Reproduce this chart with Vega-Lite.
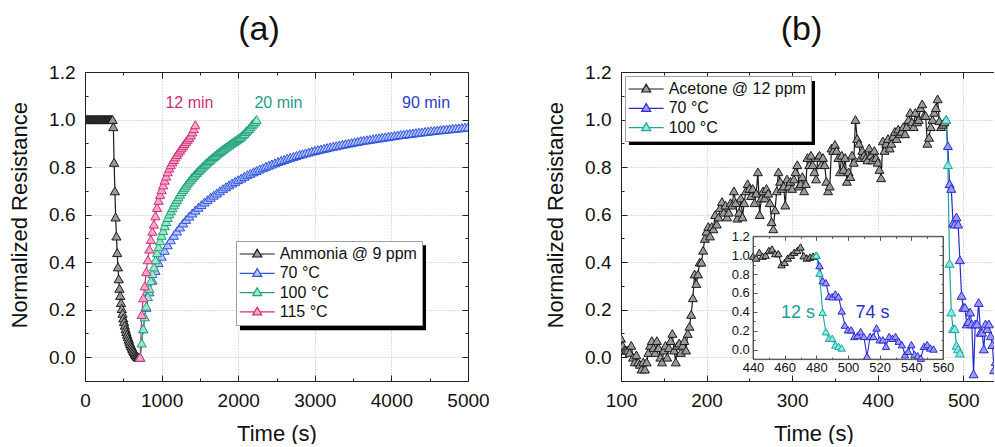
{
"$schema":"https://vega.github.io/schema/vega-lite/v6.json",
"background":"white",
"padding":{"left":8,"top":13,"right":0,"bottom":0},
"spacing":153,
"bounds":"flush",
"config":{
 "view":{"stroke":null},
 "font":"Liberation Sans",
 "axis":{"labelFont":"Liberation Sans","titleFont":"Liberation Sans","labelColor":"#111","titleColor":"#111","domainColor":"#222","tickColor":"#222","titleFontWeight":"normal","gridColor":"#bdbdbd","gridDash":[1,2],"labelFlush":false,"labelOverlap":false},
 "legend":{"labelFont":"Liberation Sans","labelColor":"#111","zindex":1},
 "title":{"font":"Liberation Sans","fontSize":34,"fontWeight":"normal","color":"#111","baseline":"alphabetic","offset":16,"anchor":"middle"},
 "text":{"font":"Liberation Sans"}
},
"resolve":{"scale":{"x":"independent","y":"independent","stroke":"independent","fill":"independent"},"axis":{"x":"independent","y":"independent"},"legend":{"stroke":"independent","fill":"independent"}},
"datasets":{
"a":[
{"s":"Ammonia @ 9 ppm","t":0,"r":1},{"s":"Ammonia @ 9 ppm","t":10,"r":1},{"s":"Ammonia @ 9 ppm","t":20,"r":1},{"s":"Ammonia @ 9 ppm","t":30,"r":1},{"s":"Ammonia @ 9 ppm","t":40,"r":1},{"s":"Ammonia @ 9 ppm","t":50,"r":1},{"s":"Ammonia @ 9 ppm","t":60,"r":1},{"s":"Ammonia @ 9 ppm","t":70,"r":1},{"s":"Ammonia @ 9 ppm","t":80,"r":1},{"s":"Ammonia @ 9 ppm","t":90,"r":1},{"s":"Ammonia @ 9 ppm","t":100,"r":1},{"s":"Ammonia @ 9 ppm","t":110,"r":1},{"s":"Ammonia @ 9 ppm","t":120,"r":1},{"s":"Ammonia @ 9 ppm","t":130,"r":1},{"s":"Ammonia @ 9 ppm","t":140,"r":1},{"s":"Ammonia @ 9 ppm","t":150,"r":1},{"s":"Ammonia @ 9 ppm","t":160,"r":1},{"s":"Ammonia @ 9 ppm","t":170,"r":1},{"s":"Ammonia @ 9 ppm","t":180,"r":1},{"s":"Ammonia @ 9 ppm","t":190,"r":1},{"s":"Ammonia @ 9 ppm","t":200,"r":1},{"s":"Ammonia @ 9 ppm","t":210,"r":1},{"s":"Ammonia @ 9 ppm","t":220,"r":1},{"s":"Ammonia @ 9 ppm","t":230,"r":1},{"s":"Ammonia @ 9 ppm","t":240,"r":1},{"s":"Ammonia @ 9 ppm","t":250,"r":1},{"s":"Ammonia @ 9 ppm","t":260,"r":1},{"s":"Ammonia @ 9 ppm","t":270,"r":1},{"s":"Ammonia @ 9 ppm","t":280,"r":1},{"s":"Ammonia @ 9 ppm","t":290,"r":1},{"s":"Ammonia @ 9 ppm","t":300,"r":1},{"s":"Ammonia @ 9 ppm","t":310,"r":1},{"s":"Ammonia @ 9 ppm","t":320,"r":1},{"s":"Ammonia @ 9 ppm","t":330,"r":1},{"s":"Ammonia @ 9 ppm","t":340,"r":1},{"s":"Ammonia @ 9 ppm","t":350,"r":1},
{"s":"Ammonia @ 9 ppm","t":360,"r":1.0},{"s":"Ammonia @ 9 ppm","t":370,"r":0.97},{"s":"Ammonia @ 9 ppm","t":380,"r":0.82},{"s":"Ammonia @ 9 ppm","t":390,"r":0.70},{"s":"Ammonia @ 9 ppm","t":400,"r":0.59},{"s":"Ammonia @ 9 ppm","t":410,"r":0.51},{"s":"Ammonia @ 9 ppm","t":420,"r":0.44},{"s":"Ammonia @ 9 ppm","t":430,"r":0.38},{"s":"Ammonia @ 9 ppm","t":440,"r":0.33},{"s":"Ammonia @ 9 ppm","t":450,"r":0.29},{"s":"Ammonia @ 9 ppm","t":460,"r":0.26},{"s":"Ammonia @ 9 ppm","t":470,"r":0.23},{"s":"Ammonia @ 9 ppm","t":480,"r":0.205},{"s":"Ammonia @ 9 ppm","t":490,"r":0.185},{"s":"Ammonia @ 9 ppm","t":500,"r":0.165},{"s":"Ammonia @ 9 ppm","t":510,"r":0.15},{"s":"Ammonia @ 9 ppm","t":520,"r":0.135},{"s":"Ammonia @ 9 ppm","t":530,"r":0.12},{"s":"Ammonia @ 9 ppm","t":540,"r":0.108},{"s":"Ammonia @ 9 ppm","t":550,"r":0.097},{"s":"Ammonia @ 9 ppm","t":560,"r":0.086},{"s":"Ammonia @ 9 ppm","t":570,"r":0.076},{"s":"Ammonia @ 9 ppm","t":580,"r":0.067},{"s":"Ammonia @ 9 ppm","t":590,"r":0.058},{"s":"Ammonia @ 9 ppm","t":600,"r":0.05},{"s":"Ammonia @ 9 ppm","t":610,"r":0.043},{"s":"Ammonia @ 9 ppm","t":620,"r":0.036},{"s":"Ammonia @ 9 ppm","t":630,"r":0.029},{"s":"Ammonia @ 9 ppm","t":640,"r":0.023},{"s":"Ammonia @ 9 ppm","t":650,"r":0.017},{"s":"Ammonia @ 9 ppm","t":660,"r":0.012},{"s":"Ammonia @ 9 ppm","t":670,"r":0.008},{"s":"Ammonia @ 9 ppm","t":680,"r":0.004},{"s":"Ammonia @ 9 ppm","t":690,"r":0.001},{"s":"Ammonia @ 9 ppm","t":700,"r":0.0},
{"s":"70 °C","t":720,"r":0.0},{"s":"70 °C","t":760,"r":0.12},{"s":"70 °C","t":800,"r":0.21},{"s":"70 °C","t":840,"r":0.275},{"s":"70 °C","t":880,"r":0.325},{"s":"70 °C","t":920,"r":0.365},{"s":"70 °C","t":960,"r":0.398},{"s":"70 °C","t":1000,"r":0.425},{"s":"70 °C","t":1040,"r":0.45},{"s":"70 °C","t":1080,"r":0.473},{"s":"70 °C","t":1120,"r":0.494},{"s":"70 °C","t":1160,"r":0.513},{"s":"70 °C","t":1200,"r":0.531},{"s":"70 °C","t":1240,"r":0.548},{"s":"70 °C","t":1280,"r":0.565},{"s":"70 °C","t":1320,"r":0.58},{"s":"70 °C","t":1360,"r":0.594},{"s":"70 °C","t":1400,"r":0.607},{"s":"70 °C","t":1440,"r":0.619},{"s":"70 °C","t":1480,"r":0.631},{"s":"70 °C","t":1520,"r":0.642},{"s":"70 °C","t":1560,"r":0.653},{"s":"70 °C","t":1600,"r":0.663},{"s":"70 °C","t":1640,"r":0.673},{"s":"70 °C","t":1680,"r":0.682},{"s":"70 °C","t":1720,"r":0.691},{"s":"70 °C","t":1760,"r":0.70},{"s":"70 °C","t":1800,"r":0.709},{"s":"70 °C","t":1840,"r":0.717},{"s":"70 °C","t":1880,"r":0.725},{"s":"70 °C","t":1920,"r":0.733},{"s":"70 °C","t":1960,"r":0.74},{"s":"70 °C","t":2000,"r":0.747},{"s":"70 °C","t":2040,"r":0.754},{"s":"70 °C","t":2080,"r":0.761},{"s":"70 °C","t":2120,"r":0.768},{"s":"70 °C","t":2160,"r":0.774},{"s":"70 °C","t":2200,"r":0.78},{"s":"70 °C","t":2240,"r":0.786},{"s":"70 °C","t":2280,"r":0.792},{"s":"70 °C","t":2320,"r":0.797},{"s":"70 °C","t":2360,"r":0.803},{"s":"70 °C","t":2400,"r":0.808},{"s":"70 °C","t":2440,"r":0.813},{"s":"70 °C","t":2480,"r":0.818},{"s":"70 °C","t":2520,"r":0.823},{"s":"70 °C","t":2560,"r":0.828},{"s":"70 °C","t":2600,"r":0.832},{"s":"70 °C","t":2640,"r":0.837},{"s":"70 °C","t":2680,"r":0.841},{"s":"70 °C","t":2720,"r":0.845},{"s":"70 °C","t":2760,"r":0.849},{"s":"70 °C","t":2800,"r":0.853},{"s":"70 °C","t":2840,"r":0.856},{"s":"70 °C","t":2880,"r":0.86},{"s":"70 °C","t":2920,"r":0.863},{"s":"70 °C","t":2960,"r":0.867},{"s":"70 °C","t":3000,"r":0.87},{"s":"70 °C","t":3040,"r":0.873},{"s":"70 °C","t":3080,"r":0.876},{"s":"70 °C","t":3120,"r":0.879},{"s":"70 °C","t":3160,"r":0.882},{"s":"70 °C","t":3200,"r":0.885},{"s":"70 °C","t":3240,"r":0.888},{"s":"70 °C","t":3280,"r":0.89},{"s":"70 °C","t":3320,"r":0.893},{"s":"70 °C","t":3360,"r":0.896},{"s":"70 °C","t":3400,"r":0.898},{"s":"70 °C","t":3440,"r":0.901},{"s":"70 °C","t":3480,"r":0.903},{"s":"70 °C","t":3520,"r":0.906},{"s":"70 °C","t":3560,"r":0.908},{"s":"70 °C","t":3600,"r":0.911},{"s":"70 °C","t":3640,"r":0.913},{"s":"70 °C","t":3680,"r":0.915},{"s":"70 °C","t":3720,"r":0.917},{"s":"70 °C","t":3760,"r":0.919},{"s":"70 °C","t":3800,"r":0.921},{"s":"70 °C","t":3840,"r":0.923},{"s":"70 °C","t":3880,"r":0.925},{"s":"70 °C","t":3920,"r":0.927},{"s":"70 °C","t":3960,"r":0.929},{"s":"70 °C","t":4000,"r":0.931},{"s":"70 °C","t":4040,"r":0.933},{"s":"70 °C","t":4080,"r":0.935},{"s":"70 °C","t":4120,"r":0.937},{"s":"70 °C","t":4160,"r":0.938},{"s":"70 °C","t":4200,"r":0.94},{"s":"70 °C","t":4240,"r":0.942},{"s":"70 °C","t":4280,"r":0.943},{"s":"70 °C","t":4320,"r":0.945},{"s":"70 °C","t":4360,"r":0.947},{"s":"70 °C","t":4400,"r":0.948},{"s":"70 °C","t":4440,"r":0.95},{"s":"70 °C","t":4480,"r":0.951},{"s":"70 °C","t":4520,"r":0.953},{"s":"70 °C","t":4560,"r":0.954},{"s":"70 °C","t":4600,"r":0.956},{"s":"70 °C","t":4640,"r":0.957},{"s":"70 °C","t":4680,"r":0.959},{"s":"70 °C","t":4720,"r":0.96},{"s":"70 °C","t":4760,"r":0.961},{"s":"70 °C","t":4800,"r":0.963},{"s":"70 °C","t":4840,"r":0.964},{"s":"70 °C","t":4880,"r":0.965},{"s":"70 °C","t":4920,"r":0.966},{"s":"70 °C","t":4960,"r":0.968},{"s":"70 °C","t":5000,"r":0.969},
{"s":"100 °C","t":720,"r":0.0},{"s":"100 °C","t":740,"r":0.06},{"s":"100 °C","t":760,"r":0.12},{"s":"100 °C","t":780,"r":0.17},{"s":"100 °C","t":800,"r":0.215},{"s":"100 °C","t":820,"r":0.255},{"s":"100 °C","t":840,"r":0.29},{"s":"100 °C","t":860,"r":0.322},{"s":"100 °C","t":880,"r":0.352},{"s":"100 °C","t":900,"r":0.38},{"s":"100 °C","t":920,"r":0.41},{"s":"100 °C","t":940,"r":0.44},{"s":"100 °C","t":960,"r":0.465},{"s":"100 °C","t":980,"r":0.49},{"s":"100 °C","t":1000,"r":0.513},{"s":"100 °C","t":1020,"r":0.533},{"s":"100 °C","t":1040,"r":0.553},{"s":"100 °C","t":1060,"r":0.571},{"s":"100 °C","t":1080,"r":0.588},{"s":"100 °C","t":1100,"r":0.603},{"s":"100 °C","t":1120,"r":0.616},{"s":"100 °C","t":1140,"r":0.629},{"s":"100 °C","t":1160,"r":0.641},{"s":"100 °C","t":1180,"r":0.653},{"s":"100 °C","t":1200,"r":0.664},{"s":"100 °C","t":1220,"r":0.675},{"s":"100 °C","t":1240,"r":0.686},{"s":"100 °C","t":1260,"r":0.697},{"s":"100 °C","t":1280,"r":0.706},{"s":"100 °C","t":1300,"r":0.715},{"s":"100 °C","t":1320,"r":0.724},{"s":"100 °C","t":1340,"r":0.733},{"s":"100 °C","t":1360,"r":0.741},{"s":"100 °C","t":1380,"r":0.749},{"s":"100 °C","t":1400,"r":0.757},{"s":"100 °C","t":1420,"r":0.764},{"s":"100 °C","t":1440,"r":0.771},{"s":"100 °C","t":1460,"r":0.778},{"s":"100 °C","t":1480,"r":0.785},{"s":"100 °C","t":1500,"r":0.791},{"s":"100 °C","t":1520,"r":0.797},{"s":"100 °C","t":1540,"r":0.804},{"s":"100 °C","t":1560,"r":0.81},{"s":"100 °C","t":1580,"r":0.816},{"s":"100 °C","t":1600,"r":0.822},{"s":"100 °C","t":1620,"r":0.828},{"s":"100 °C","t":1640,"r":0.833},{"s":"100 °C","t":1660,"r":0.839},{"s":"100 °C","t":1680,"r":0.844},{"s":"100 °C","t":1700,"r":0.849},{"s":"100 °C","t":1720,"r":0.855},{"s":"100 °C","t":1740,"r":0.86},{"s":"100 °C","t":1760,"r":0.865},{"s":"100 °C","t":1780,"r":0.87},{"s":"100 °C","t":1800,"r":0.875},{"s":"100 °C","t":1820,"r":0.88},{"s":"100 °C","t":1840,"r":0.884},{"s":"100 °C","t":1860,"r":0.889},{"s":"100 °C","t":1880,"r":0.893},{"s":"100 °C","t":1900,"r":0.898},{"s":"100 °C","t":1920,"r":0.902},{"s":"100 °C","t":1940,"r":0.907},{"s":"100 °C","t":1960,"r":0.911},{"s":"100 °C","t":1980,"r":0.915},{"s":"100 °C","t":2000,"r":0.92},{"s":"100 °C","t":2020,"r":0.924},{"s":"100 °C","t":2040,"r":0.93},{"s":"100 °C","t":2060,"r":0.936},{"s":"100 °C","t":2080,"r":0.942},{"s":"100 °C","t":2100,"r":0.95},{"s":"100 °C","t":2120,"r":0.956},{"s":"100 °C","t":2140,"r":0.962},{"s":"100 °C","t":2160,"r":0.97},{"s":"100 °C","t":2180,"r":0.978},{"s":"100 °C","t":2200,"r":0.985},{"s":"100 °C","t":2220,"r":0.992},{"s":"100 °C","t":2240,"r":1.0},
{"s":"115 °C","t":720,"r":0.0},{"s":"115 °C","t":740,"r":0.18},{"s":"115 °C","t":760,"r":0.25},{"s":"115 °C","t":780,"r":0.30},{"s":"115 °C","t":800,"r":0.36},{"s":"115 °C","t":820,"r":0.41},{"s":"115 °C","t":840,"r":0.455},{"s":"115 °C","t":860,"r":0.495},{"s":"115 °C","t":880,"r":0.53},{"s":"115 °C","t":900,"r":0.56},{"s":"115 °C","t":920,"r":0.595},{"s":"115 °C","t":940,"r":0.63},{"s":"115 °C","t":960,"r":0.66},{"s":"115 °C","t":980,"r":0.685},{"s":"115 °C","t":1000,"r":0.705},{"s":"115 °C","t":1020,"r":0.725},{"s":"115 °C","t":1040,"r":0.745},{"s":"115 °C","t":1060,"r":0.762},{"s":"115 °C","t":1080,"r":0.78},{"s":"115 °C","t":1100,"r":0.796},{"s":"115 °C","t":1120,"r":0.81},{"s":"115 °C","t":1140,"r":0.822},{"s":"115 °C","t":1160,"r":0.832},{"s":"115 °C","t":1180,"r":0.843},{"s":"115 °C","t":1200,"r":0.853},{"s":"115 °C","t":1220,"r":0.863},{"s":"115 °C","t":1240,"r":0.872},{"s":"115 °C","t":1260,"r":0.881},{"s":"115 °C","t":1280,"r":0.89},{"s":"115 °C","t":1300,"r":0.899},{"s":"115 °C","t":1320,"r":0.908},{"s":"115 °C","t":1340,"r":0.917},{"s":"115 °C","t":1360,"r":0.925},{"s":"115 °C","t":1380,"r":0.935},{"s":"115 °C","t":1400,"r":0.948},{"s":"115 °C","t":1420,"r":0.962},{"s":"115 °C","t":1440,"r":0.978}
],
"b":[
{"s":"Acetone @ 12 ppm","t":100,"r":0.08},{"s":"Acetone @ 12 ppm","t":102,"r":0.05},{"s":"Acetone @ 12 ppm","t":104,"r":0.03},{"s":"Acetone @ 12 ppm","t":106,"r":0.03},{"s":"Acetone @ 12 ppm","t":108,"r":0.03},{"s":"Acetone @ 12 ppm","t":110,"r":0.02},{"s":"Acetone @ 12 ppm","t":112,"r":0.05},{"s":"Acetone @ 12 ppm","t":114,"r":0.0},{"s":"Acetone @ 12 ppm","t":116,"r":-0.02},{"s":"Acetone @ 12 ppm","t":118,"r":0.01},{"s":"Acetone @ 12 ppm","t":120,"r":-0.02},{"s":"Acetone @ 12 ppm","t":122,"r":-0.03},{"s":"Acetone @ 12 ppm","t":124,"r":-0.05},{"s":"Acetone @ 12 ppm","t":126,"r":-0.02},{"s":"Acetone @ 12 ppm","t":128,"r":-0.05},{"s":"Acetone @ 12 ppm","t":130,"r":-0.02},{"s":"Acetone @ 12 ppm","t":132,"r":0.02},{"s":"Acetone @ 12 ppm","t":134,"r":0.05},{"s":"Acetone @ 12 ppm","t":136,"r":0.07},{"s":"Acetone @ 12 ppm","t":138,"r":0.04},{"s":"Acetone @ 12 ppm","t":140,"r":0.02},{"s":"Acetone @ 12 ppm","t":142,"r":0.07},{"s":"Acetone @ 12 ppm","t":144,"r":0.04},{"s":"Acetone @ 12 ppm","t":146,"r":0.0},{"s":"Acetone @ 12 ppm","t":148,"r":-0.02},{"s":"Acetone @ 12 ppm","t":150,"r":0.03},{"s":"Acetone @ 12 ppm","t":152,"r":0.05},{"s":"Acetone @ 12 ppm","t":154,"r":0.0},{"s":"Acetone @ 12 ppm","t":156,"r":0.04},{"s":"Acetone @ 12 ppm","t":158,"r":0.07},{"s":"Acetone @ 12 ppm","t":160,"r":0.1},{"s":"Acetone @ 12 ppm","t":162,"r":0.03},{"s":"Acetone @ 12 ppm","t":164,"r":-0.02},{"s":"Acetone @ 12 ppm","t":166,"r":0.05},{"s":"Acetone @ 12 ppm","t":168,"r":0.06},{"s":"Acetone @ 12 ppm","t":170,"r":0.02},{"s":"Acetone @ 12 ppm","t":172,"r":0.05},{"s":"Acetone @ 12 ppm","t":174,"r":0.07},{"s":"Acetone @ 12 ppm","t":176,"r":0.03},{"s":"Acetone @ 12 ppm","t":178,"r":0.1},{"s":"Acetone @ 12 ppm","t":180,"r":0.13},{"s":"Acetone @ 12 ppm","t":182,"r":0.18},{"s":"Acetone @ 12 ppm","t":184,"r":0.25},{"s":"Acetone @ 12 ppm","t":186,"r":0.35},{"s":"Acetone @ 12 ppm","t":188,"r":0.31},{"s":"Acetone @ 12 ppm","t":190,"r":0.35},{"s":"Acetone @ 12 ppm","t":192,"r":0.4},{"s":"Acetone @ 12 ppm","t":194,"r":0.4},{"s":"Acetone @ 12 ppm","t":196,"r":0.45},{"s":"Acetone @ 12 ppm","t":198,"r":0.5},{"s":"Acetone @ 12 ppm","t":200,"r":0.53},{"s":"Acetone @ 12 ppm","t":202,"r":0.55},{"s":"Acetone @ 12 ppm","t":204,"r":0.51},{"s":"Acetone @ 12 ppm","t":206,"r":0.55},{"s":"Acetone @ 12 ppm","t":208,"r":0.54},{"s":"Acetone @ 12 ppm","t":210,"r":0.6},{"s":"Acetone @ 12 ppm","t":212,"r":0.56},{"s":"Acetone @ 12 ppm","t":214,"r":0.59},{"s":"Acetone @ 12 ppm","t":216,"r":0.63},{"s":"Acetone @ 12 ppm","t":218,"r":0.655},{"s":"Acetone @ 12 ppm","t":220,"r":0.61},{"s":"Acetone @ 12 ppm","t":222,"r":0.64},{"s":"Acetone @ 12 ppm","t":224,"r":0.59},{"s":"Acetone @ 12 ppm","t":226,"r":0.61},{"s":"Acetone @ 12 ppm","t":228,"r":0.65},{"s":"Acetone @ 12 ppm","t":230,"r":0.64},{"s":"Acetone @ 12 ppm","t":232,"r":0.7},{"s":"Acetone @ 12 ppm","t":234,"r":0.65},{"s":"Acetone @ 12 ppm","t":236,"r":0.585},{"s":"Acetone @ 12 ppm","t":238,"r":0.61},{"s":"Acetone @ 12 ppm","t":240,"r":0.67},{"s":"Acetone @ 12 ppm","t":242,"r":0.59},{"s":"Acetone @ 12 ppm","t":244,"r":0.65},{"s":"Acetone @ 12 ppm","t":246,"r":0.7},{"s":"Acetone @ 12 ppm","t":248,"r":0.73},{"s":"Acetone @ 12 ppm","t":250,"r":0.71},{"s":"Acetone @ 12 ppm","t":252,"r":0.68},{"s":"Acetone @ 12 ppm","t":254,"r":0.71},{"s":"Acetone @ 12 ppm","t":256,"r":0.65},{"s":"Acetone @ 12 ppm","t":258,"r":0.69},{"s":"Acetone @ 12 ppm","t":260,"r":0.78},{"s":"Acetone @ 12 ppm","t":262,"r":0.6},{"s":"Acetone @ 12 ppm","t":264,"r":0.67},{"s":"Acetone @ 12 ppm","t":266,"r":0.7},{"s":"Acetone @ 12 ppm","t":268,"r":0.67},{"s":"Acetone @ 12 ppm","t":270,"r":0.71},{"s":"Acetone @ 12 ppm","t":272,"r":0.69},{"s":"Acetone @ 12 ppm","t":274,"r":0.65},{"s":"Acetone @ 12 ppm","t":276,"r":0.57},{"s":"Acetone @ 12 ppm","t":278,"r":0.54},{"s":"Acetone @ 12 ppm","t":280,"r":0.62},{"s":"Acetone @ 12 ppm","t":282,"r":0.7},{"s":"Acetone @ 12 ppm","t":284,"r":0.78},{"s":"Acetone @ 12 ppm","t":286,"r":0.74},{"s":"Acetone @ 12 ppm","t":288,"r":0.71},{"s":"Acetone @ 12 ppm","t":290,"r":0.72},{"s":"Acetone @ 12 ppm","t":292,"r":0.64},{"s":"Acetone @ 12 ppm","t":294,"r":0.75},{"s":"Acetone @ 12 ppm","t":296,"r":0.72},{"s":"Acetone @ 12 ppm","t":298,"r":0.74},{"s":"Acetone @ 12 ppm","t":300,"r":0.71},{"s":"Acetone @ 12 ppm","t":302,"r":0.75},{"s":"Acetone @ 12 ppm","t":304,"r":0.78},{"s":"Acetone @ 12 ppm","t":306,"r":0.81},{"s":"Acetone @ 12 ppm","t":308,"r":0.72},{"s":"Acetone @ 12 ppm","t":310,"r":0.73},{"s":"Acetone @ 12 ppm","t":312,"r":0.76},{"s":"Acetone @ 12 ppm","t":314,"r":0.7},{"s":"Acetone @ 12 ppm","t":316,"r":0.73},{"s":"Acetone @ 12 ppm","t":318,"r":0.84},{"s":"Acetone @ 12 ppm","t":320,"r":0.81},{"s":"Acetone @ 12 ppm","t":322,"r":0.85},{"s":"Acetone @ 12 ppm","t":324,"r":0.81},{"s":"Acetone @ 12 ppm","t":326,"r":0.78},{"s":"Acetone @ 12 ppm","t":328,"r":0.75},{"s":"Acetone @ 12 ppm","t":330,"r":0.84},{"s":"Acetone @ 12 ppm","t":332,"r":0.85},{"s":"Acetone @ 12 ppm","t":334,"r":0.81},{"s":"Acetone @ 12 ppm","t":336,"r":0.84},{"s":"Acetone @ 12 ppm","t":338,"r":0.81},{"s":"Acetone @ 12 ppm","t":340,"r":0.74},{"s":"Acetone @ 12 ppm","t":342,"r":0.7},{"s":"Acetone @ 12 ppm","t":344,"r":0.72},{"s":"Acetone @ 12 ppm","t":346,"r":0.88},{"s":"Acetone @ 12 ppm","t":348,"r":0.87},{"s":"Acetone @ 12 ppm","t":350,"r":0.895},{"s":"Acetone @ 12 ppm","t":352,"r":0.87},{"s":"Acetone @ 12 ppm","t":354,"r":0.84},{"s":"Acetone @ 12 ppm","t":356,"r":0.78},{"s":"Acetone @ 12 ppm","t":358,"r":0.85},{"s":"Acetone @ 12 ppm","t":360,"r":0.79},{"s":"Acetone @ 12 ppm","t":362,"r":0.84},{"s":"Acetone @ 12 ppm","t":364,"r":0.74},{"s":"Acetone @ 12 ppm","t":366,"r":0.78},{"s":"Acetone @ 12 ppm","t":368,"r":0.76},{"s":"Acetone @ 12 ppm","t":370,"r":0.85},{"s":"Acetone @ 12 ppm","t":372,"r":0.82},{"s":"Acetone @ 12 ppm","t":374,"r":1.0},{"s":"Acetone @ 12 ppm","t":376,"r":0.92},{"s":"Acetone @ 12 ppm","t":378,"r":0.9},{"s":"Acetone @ 12 ppm","t":380,"r":0.84},{"s":"Acetone @ 12 ppm","t":382,"r":0.87},{"s":"Acetone @ 12 ppm","t":384,"r":0.85},{"s":"Acetone @ 12 ppm","t":386,"r":0.84},{"s":"Acetone @ 12 ppm","t":388,"r":0.83},{"s":"Acetone @ 12 ppm","t":390,"r":0.88},{"s":"Acetone @ 12 ppm","t":392,"r":0.85},{"s":"Acetone @ 12 ppm","t":394,"r":0.83},{"s":"Acetone @ 12 ppm","t":396,"r":0.87},{"s":"Acetone @ 12 ppm","t":398,"r":0.84},{"s":"Acetone @ 12 ppm","t":400,"r":0.82},{"s":"Acetone @ 12 ppm","t":402,"r":0.79},{"s":"Acetone @ 12 ppm","t":404,"r":0.755},{"s":"Acetone @ 12 ppm","t":406,"r":0.91},{"s":"Acetone @ 12 ppm","t":408,"r":0.87},{"s":"Acetone @ 12 ppm","t":410,"r":0.9},{"s":"Acetone @ 12 ppm","t":412,"r":0.92},{"s":"Acetone @ 12 ppm","t":414,"r":0.88},{"s":"Acetone @ 12 ppm","t":416,"r":0.9},{"s":"Acetone @ 12 ppm","t":418,"r":0.93},{"s":"Acetone @ 12 ppm","t":420,"r":0.95},{"s":"Acetone @ 12 ppm","t":422,"r":0.92},{"s":"Acetone @ 12 ppm","t":424,"r":0.96},{"s":"Acetone @ 12 ppm","t":426,"r":0.94},{"s":"Acetone @ 12 ppm","t":428,"r":0.95},{"s":"Acetone @ 12 ppm","t":430,"r":0.97},{"s":"Acetone @ 12 ppm","t":432,"r":0.94},{"s":"Acetone @ 12 ppm","t":434,"r":0.97},{"s":"Acetone @ 12 ppm","t":436,"r":1.0},{"s":"Acetone @ 12 ppm","t":438,"r":1.03},{"s":"Acetone @ 12 ppm","t":440,"r":0.99},{"s":"Acetone @ 12 ppm","t":442,"r":0.97},{"s":"Acetone @ 12 ppm","t":444,"r":1.03},{"s":"Acetone @ 12 ppm","t":446,"r":0.99},{"s":"Acetone @ 12 ppm","t":448,"r":1.0},{"s":"Acetone @ 12 ppm","t":450,"r":1.05},{"s":"Acetone @ 12 ppm","t":452,"r":1.066},{"s":"Acetone @ 12 ppm","t":454,"r":1.017},{"s":"Acetone @ 12 ppm","t":456,"r":1.017},{"s":"Acetone @ 12 ppm","t":458,"r":0.9},{"s":"Acetone @ 12 ppm","t":460,"r":0.925},{"s":"Acetone @ 12 ppm","t":462,"r":0.97},{"s":"Acetone @ 12 ppm","t":464,"r":1.0},{"s":"Acetone @ 12 ppm","t":466,"r":1.03},{"s":"Acetone @ 12 ppm","t":468,"r":1.05},{"s":"Acetone @ 12 ppm","t":470,"r":1.087},{"s":"Acetone @ 12 ppm","t":472,"r":0.995},{"s":"Acetone @ 12 ppm","t":474,"r":0.97},{"s":"Acetone @ 12 ppm","t":476,"r":0.98},{"s":"Acetone @ 12 ppm","t":478,"r":0.99},
{"s":"70 °C","t":480,"r":1.0},{"s":"70 °C","t":482,"r":0.89},{"s":"70 °C","t":484,"r":0.73},{"s":"70 °C","t":486,"r":0.71},{"s":"70 °C","t":488,"r":0.565},{"s":"70 °C","t":490,"r":0.56},{"s":"70 °C","t":492,"r":0.59},{"s":"70 °C","t":494,"r":0.56},{"s":"70 °C","t":496,"r":0.41},{"s":"70 °C","t":498,"r":0.26},{"s":"70 °C","t":500,"r":0.21},{"s":"70 °C","t":502,"r":0.21},{"s":"70 °C","t":504,"r":0.14},{"s":"70 °C","t":506,"r":0.15},{"s":"70 °C","t":508,"r":0.19},{"s":"70 °C","t":510,"r":0.14},{"s":"70 °C","t":512,"r":-0.07},{"s":"70 °C","t":514,"r":0.14},{"s":"70 °C","t":516,"r":0.14},{"s":"70 °C","t":518,"r":0.23},{"s":"70 °C","t":520,"r":0.105},{"s":"70 °C","t":522,"r":0.105},{"s":"70 °C","t":524,"r":0.035},{"s":"70 °C","t":526,"r":0.14},{"s":"70 °C","t":528,"r":0.12},{"s":"70 °C","t":530,"r":0.14},{"s":"70 °C","t":532,"r":0.09},{"s":"70 °C","t":534,"r":0.053},{"s":"70 °C","t":536,"r":-0.053},{"s":"70 °C","t":538,"r":-0.018},{"s":"70 °C","t":540,"r":0.053},{"s":"70 °C","t":542,"r":-0.05},{"s":"70 °C","t":544,"r":-0.064},{"s":"70 °C","t":546,"r":-0.09},{"s":"70 °C","t":548,"r":0.035},{"s":"70 °C","t":550,"r":0.053},{"s":"70 °C","t":552,"r":0.018},{"s":"70 °C","t":554,"r":0.007},
{"s":"100 °C","t":480,"r":1.0},{"s":"100 °C","t":482,"r":0.81},{"s":"100 °C","t":484,"r":0.395},{"s":"100 °C","t":486,"r":0.19},{"s":"100 °C","t":488,"r":0.12},{"s":"100 °C","t":490,"r":0.12},{"s":"100 °C","t":492,"r":0.05},{"s":"100 °C","t":494,"r":0.035},{"s":"100 °C","t":496,"r":0.018}
]},
"hconcat":[
{
 "width":383,"height":309,
 "title":{"text":"(a)","dx":-17.5},
 "layer":[
  {"data":{"name":"a"},"transform":[{"filter":"false"}],"mark":{"type":"point","shape":"triangle-up","filled":true,"size":85,"strokeWidth":1,"opacity":1},
   "encoding":{
    "x":{"field":"t","type":"quantitative","scale":{"domain":[0,5000],"nice":false,"zero":false},"axis":null},
    "y":{"field":"r","type":"quantitative","scale":{"domain":[-0.1,1.2],"nice":false,"zero":false},"axis":null},
    "fill":{"field":"s","type":"nominal","scale":{"domain":["Ammonia @ 9 ppm","70 °C","100 °C","115 °C"],"range":["#9a9a9a","#b4c8ff","#9fe6c6","#f3a7c9"]},"legend":{"orient":"none","legendX":151,"legendY":169,"title":null,"symbolType":"M-1.55,0H0.87M1.87,0H4.28M1.37,-0.8L2.12,0.5L0.62,0.5Z","symbolSize":144,"symbolStrokeWidth":1.2,"symbolOpacity":1,"labelFontSize":16,"labelOffset":22.7,"rowPadding":3.3,"padding":5,"fillColor":"white","strokeColor":"#a0a0a0","zindex":1}},
    "stroke":{"field":"s","type":"nominal","scale":{"domain":["Ammonia @ 9 ppm","70 °C","100 °C","115 °C"],"range":["#1a1a1a","#2f4fdc","#1fa07c","#d12f7a"]},"legend":{"orient":"none","legendX":151,"legendY":169,"title":null,"symbolType":"M-1.55,0H0.87M1.87,0H4.28M1.37,-0.8L2.12,0.5L0.62,0.5Z","symbolSize":144,"symbolStrokeWidth":1.2,"symbolOpacity":1,"labelFontSize":16,"labelOffset":22.7,"rowPadding":3.3,"padding":5,"fillColor":"white","strokeColor":"#a0a0a0","zindex":1}}
   }},
  {"data":{"name":"a"},"mark":{"type":"line","strokeWidth":1.2,"clip":true},
   "encoding":{
    "x":{"field":"t","type":"quantitative",
     "axis":{"orient":"bottom","values":[0,500,1000,1500,2000,2500,3000,3500,4000,4500,5000],"format":"d","labelExpr":"datum.value % 1000 === 0 ? datum.label : ''","tickSize":{"condition":{"test":"datum.value % 1000 === 0","value":-6},"value":-3},"labelPadding":16,"labelFontSize":19,"grid":true,"gridOpacity":{"condition":{"test":"datum.value % 1000 === 0","value":1},"value":0},"title":"Time (s)","titleFontSize":22,"titlePadding":10}},
    "y":{"field":"r","type":"quantitative",
     "axis":{"orient":"left","values":[0,0.1,0.2,0.3,0.4,0.5,0.6,0.7,0.8,0.9,1,1.1,1.2],"format":".1f","labelExpr":"abs(datum.value*5-round(datum.value*5))<0.001 ? datum.label : ''","tickSize":{"condition":{"test":"abs(datum.value*5-round(datum.value*5))<0.001","value":-6},"value":-3},"labelPadding":16,"labelFontSize":19,"grid":true,"gridOpacity":{"condition":{"test":"abs(datum.value*5-round(datum.value*5))<0.001","value":1},"value":0},"title":"Normalized Resistance","titleFontSize":22,"titlePadding":17,"titleY":142.7}},
    "stroke":{"field":"s","type":"nominal"}
   }},
  {"data":{"name":"a"},"mark":{"type":"point","shape":"triangle-up","filled":true,"size":85,"strokeWidth":1,"opacity":1,"clip":true},
   "encoding":{
    "x":{"field":"t","type":"quantitative","axis":null},
    "y":{"field":"r","type":"quantitative","axis":null},
    "fill":{"field":"s","type":"nominal"},
    "stroke":{"field":"s","type":"nominal"}
   }},
  {"data":{"values":[{}]},"mark":{"type":"text","text":"12 min","color":"#c8307a","fontSize":16},"encoding":{"x":{"datum":1364,"type":"quantitative","axis":null},"y":{"datum":1.07,"type":"quantitative","axis":null}}},
  {"data":{"values":[{}]},"mark":{"type":"text","text":"20 min","color":"#1f9e86","fontSize":16},"encoding":{"x":{"datum":2526,"type":"quantitative","axis":null},"y":{"datum":1.07,"type":"quantitative","axis":null}}},
  {"data":{"values":[{}]},"mark":{"type":"text","text":"90 min","color":"#2a3ccc","fontSize":16},"encoding":{"x":{"datum":4452,"type":"quantitative","axis":null},"y":{"datum":1.07,"type":"quantitative","axis":null}}},
  {"data":{"values":[{}]},"mark":{"type":"rect","color":"#000"},
   "encoding":{
    "x":{"datum":2023,"type":"quantitative","axis":{"orient":"top","values":[0,500,1000,1500,2000,2500,3000,3500,4000,4500,5000],"labels":false,"tickSize":{"condition":{"test":"datum.value % 1000 === 0","value":-6},"value":-3},"grid":false,"title":null}},
    "x2":{"datum":4452},
    "y":{"datum":0.4716,"type":"quantitative","axis":{"orient":"right","values":[0,0.1,0.2,0.3,0.4,0.5,0.6,0.7,0.8,0.9,1,1.1,1.2],"labels":false,"tickSize":{"condition":{"test":"abs(datum.value*5-round(datum.value*5))<0.001","value":-6},"value":-3},"grid":false,"title":null}},
    "y2":{"datum":0.1137}
   }}
 ],
 "resolve":{"axis":{"x":"independent","y":"independent"}}
},
{
 "width":373,"height":309,
 "title":{"text":"(b)","dx":-6},
 "layer":[
  {"layer":[
    {"data":{"name":"b"},"transform":[{"filter":"false"}],"mark":{"type":"point","shape":"triangle-up","filled":true,"size":80,"strokeWidth":1,"opacity":1},
     "encoding":{
      "x":{"field":"t","type":"quantitative","scale":{"domain":[100,535.9],"nice":false,"zero":false},"axis":null},
      "y":{"field":"r","type":"quantitative","scale":{"domain":[-0.1,1.2],"nice":false,"zero":false},"axis":null},
      "fill":{"field":"s","type":"nominal","scale":{"domain":["Acetone @ 12 ppm","70 °C","100 °C"],"range":["#9a9a9a","#9a9af2","#8ce8e0"]},"legend":{"orient":"none","legendX":4,"legendY":4,"title":null,"symbolType":"M-1.55,0H0.87M1.87,0H4.28M1.37,-0.8L2.12,0.5L0.62,0.5Z","symbolSize":144,"symbolStrokeWidth":1.2,"symbolOpacity":1,"labelFontSize":16,"labelOffset":22.7,"rowPadding":3.3,"padding":5,"fillColor":"white","strokeColor":"#a0a0a0","zindex":1}},
      "stroke":{"field":"s","type":"nominal","scale":{"domain":["Acetone @ 12 ppm","70 °C","100 °C"],"range":["#1a1a1a","#2a2ad0","#17a69c"]},"legend":{"orient":"none","legendX":4,"legendY":4,"title":null,"symbolType":"M-1.55,0H0.87M1.87,0H4.28M1.37,-0.8L2.12,0.5L0.62,0.5Z","symbolSize":144,"symbolStrokeWidth":1.2,"symbolOpacity":1,"labelFontSize":16,"labelOffset":22.7,"rowPadding":3.3,"padding":5,"fillColor":"white","strokeColor":"#a0a0a0","zindex":1}}
     }},
    {"data":{"name":"b"},"mark":{"type":"line","strokeWidth":1.2,"clip":true},
     "encoding":{
      "x":{"field":"t","type":"quantitative",
       "axis":{"orient":"bottom","values":[100,150,200,250,300,350,400,450,500],"format":"d","labelExpr":"datum.value % 100 === 0 ? datum.label : ''","tickSize":{"condition":{"test":"datum.value % 100 === 0","value":-6},"value":-3},"labelPadding":16,"labelFontSize":19,"grid":true,"gridOpacity":{"condition":{"test":"datum.value % 100 === 0","value":1},"value":0},"title":"Time (s)","titleFontSize":22,"titlePadding":10,"titleX":192.3}},
      "y":{"field":"r","type":"quantitative",
       "axis":{"orient":"left","values":[0,0.1,0.2,0.3,0.4,0.5,0.6,0.7,0.8,0.9,1,1.1,1.2],"format":".1f","labelExpr":"abs(datum.value*5-round(datum.value*5))<0.001 ? datum.label : ''","tickSize":{"condition":{"test":"abs(datum.value*5-round(datum.value*5))<0.001","value":-6},"value":-3},"labelPadding":16,"labelFontSize":19,"grid":true,"gridOpacity":{"condition":{"test":"abs(datum.value*5-round(datum.value*5))<0.001","value":1},"value":0},"title":"Normalized Resistance","titleFontSize":22,"titlePadding":17,"titleY":142.7}},
      "stroke":{"field":"s","type":"nominal"}
     }},
    {"data":{"name":"b"},"mark":{"type":"point","shape":"triangle-up","filled":true,"size":80,"strokeWidth":1,"opacity":1,"clip":true},
     "encoding":{
      "x":{"field":"t","type":"quantitative","axis":null},
      "y":{"field":"r","type":"quantitative","axis":null},
      "fill":{"field":"s","type":"nominal"},
      "stroke":{"field":"s","type":"nominal"}
     }},
    {"data":{"values":[{}]},"mark":{"type":"rect","color":"#000"},
     "encoding":{
      "x":{"datum":109.3,"type":"quantitative","axis":{"orient":"top","values":[100,150,200,250,300,350,400,450,500],"labels":false,"tickSize":{"condition":{"test":"datum.value % 100 === 0","value":-6},"value":-3},"grid":false,"title":null}},
      "x2":{"datum":326.7},
      "y":{"datum":1.162,"type":"quantitative","axis":null},
      "y2":{"datum":0.893}
     }}
   ],
   "resolve":{"axis":{"x":"independent","y":"independent"}}
  },
  {"layer":[
    {"data":{"values":[{}]},"mark":{"type":"rect","fill":"white","stroke":"#666","strokeWidth":1},
     "encoding":{
      "x":{"datum":440,"type":"quantitative","scale":{"domain":[440,560],"range":[132,322],"nice":false,"zero":false},"axis":{"orient":"top","offset":-164.3,"values":[440,450,460,470,480,490,500,510,520,530,540,550,560],"labels":false,"tickSize":{"condition":{"test":"datum.value % 20 === 0","value":-4},"value":-2},"grid":false,"title":null,"zindex":1,"domainColor":"#555","tickColor":"#555"}},
      "x2":{"datum":560},
      "y":{"datum":-0.1,"type":"quantitative","scale":{"domain":[-0.1,1.2],"range":[287.1,164.3],"nice":false,"zero":false},"axis":{"orient":"right","offset":-51,"values":[0,0.1,0.2,0.3,0.4,0.5,0.6,0.7,0.8,0.9,1,1.1,1.2],"labels":false,"tickSize":{"condition":{"test":"abs(datum.value*5-round(datum.value*5))<0.001","value":-4},"value":-2},"grid":false,"title":null,"zindex":1,"domainColor":"#555","tickColor":"#555"}},
      "y2":{"datum":1.2}
     }},
    {"data":{"name":"b"},"transform":[{"filter":"datum.t >= 440"}],"mark":{"type":"line","strokeWidth":1.1},
     "encoding":{
      "x":{"field":"t","type":"quantitative","axis":{"orient":"bottom","offset":-21.9,"values":[440,450,460,470,480,490,500,510,520,530,540,550,560],"format":"d","labelExpr":"datum.value % 20 === 0 ? datum.label : ''","tickSize":{"condition":{"test":"datum.value % 20 === 0","value":-4},"value":-2},"labelPadding":6.2,"labelFontSize":13,"grid":false,"title":null,"zindex":1,"domainColor":"#555","tickColor":"#555"}},
      "y":{"field":"r","type":"quantitative","axis":{"orient":"left","offset":-132,"values":[0,0.1,0.2,0.3,0.4,0.5,0.6,0.7,0.8,0.9,1,1.1,1.2],"format":".1f","labelExpr":"abs(datum.value*5-round(datum.value*5))<0.001 ? datum.label : ''","tickSize":{"condition":{"test":"abs(datum.value*5-round(datum.value*5))<0.001","value":-4},"value":-2},"labelPadding":7.7,"labelFontSize":13,"grid":false,"title":null,"zindex":1,"domainColor":"#555","tickColor":"#555"}},
      "stroke":{"field":"s","type":"nominal"}
     }},
    {"data":{"name":"b"},"transform":[{"filter":"datum.t >= 440"}],"mark":{"type":"point","shape":"triangle-up","filled":true,"size":55,"strokeWidth":1,"opacity":1},
     "encoding":{
      "x":{"field":"t","type":"quantitative","axis":null},
      "y":{"field":"r","type":"quantitative","axis":null},
      "fill":{"field":"s","type":"nominal"},
      "stroke":{"field":"s","type":"nominal"}
     }},
    {"data":{"values":[{}]},"mark":{"type":"text","text":"12 s","color":"#17a096","fontSize":18},"encoding":{"x":{"datum":468.4,"type":"quantitative","axis":null},"y":{"datum":0.39,"type":"quantitative","axis":null}}},
    {"data":{"values":[{}]},"mark":{"type":"text","text":"74 s","color":"#2c2cc8","fontSize":18},"encoding":{"x":{"datum":515.5,"type":"quantitative","axis":null},"y":{"datum":0.39,"type":"quantitative","axis":null}}}
   ],
   "resolve":{"axis":{"x":"independent","y":"independent"}}
  }
 ],
 "resolve":{"scale":{"x":"independent","y":"independent"},"axis":{"x":"independent","y":"independent"}}
}
]
}
